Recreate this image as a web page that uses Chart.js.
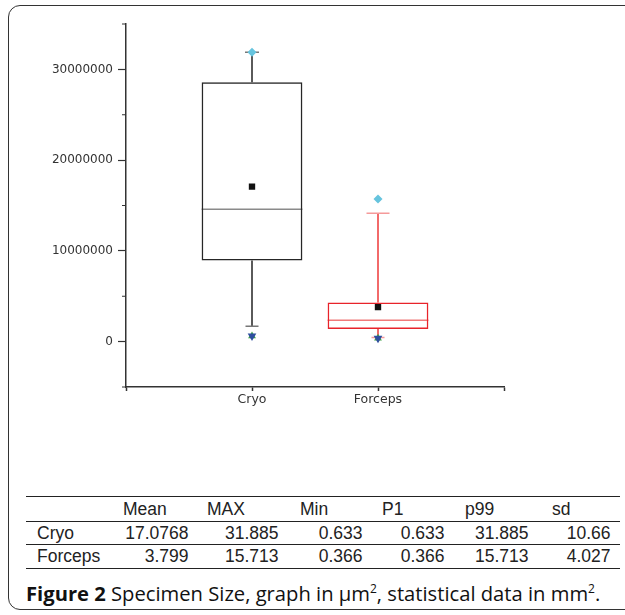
<!DOCTYPE html>
<html>
<head>
<meta charset="utf-8">
<script src="https://cdn.jsdelivr.net/npm/chart.js@4"></script>
<style>
  body { margin: 0; width: 625px; height: 615px; background: #fff; position: relative; overflow: hidden; }
  #frame { position: absolute; left: 8px; top: 5px; width: 640px; height: 605px; border: 1.5px solid #333; border-radius: 12px; box-sizing: border-box; }
  #chart { position: absolute; left: 0; top: 0; }
  #tbl { position: absolute; left: 26px; top: 496px; width: 594px; border-top: 1.5px solid #222;
         font-family: "Liberation Sans", Arial, sans-serif; font-size: 17.5px; color: #222; }
  .row { position: relative; border-bottom: 1.5px solid #222; }
  .row span { position: absolute; top: 0; white-space: nowrap; }
  #caption { position: absolute; left: 26px; top: 581px; line-height: 24px; font-family: "Open Sans", sans-serif; font-size: 20.2px; color: #111; white-space: nowrap; }
  #caption sup { font-size: 12px; vertical-align: 8px; line-height: 0; }
</style>
</head>
<body>
<div id="frame"></div>
<canvas id="chart" width="625" height="420"></canvas>
<div id="tbl"></div>
<div id="caption"><b>Figure 2</b> Specimen Size, graph in µm<sup>2</sup>, statistical data in mm<sup>2</sup>.</div>
<script>
// x axis: empty slots at both ends so the two boxes sit at 1/3 and 2/3
const categories = ["", "Cryo", "Forceps", ""];
const groups = ["Cryo", "Forceps"];

// box plot values in µm²
const q1 = [8930000, 1400000];
const q3 = [28570000, 4300000];
const medians = [14590000, 2350000];
const means = [17076800, 3799000];
const whiskerLow = [1690000, 450000];
const whiskerHigh = [31885000, 14150000];
const maxima = [31885000, 15713000];
const minima = [633000, 366000];
const p1 = [633000, 366000];
const p99 = [31885000, 15713000];

const yMajorTicks = [0, 10000000, 20000000, 30000000];
const yMinorTicks = [-5000000, 5000000, 15000000, 25000000, 35000000];

// table (mm²)
const tableHeaders = ["Mean", "MAX", "Min", "P1", "p99", "sd"];
const cryoStats = ["17.0768", "31.885", "0.633", "0.633", "31.885", "10.66"];
const forcepsStats = ["3.799", "15.713", "0.366", "0.366", "15.713", "4.027"];

const boxColors = ["#262626", "#e8232a"];
const whiskerColors = ["#5a5a5a", "#f26a6a"];
const medianColors = ["#8a8a8a", "#f07a7a"];
const capColors = ["#777", "#f59a9a"];
const capWidths = [[13, 14], [13, 23]]; // [low, high]

function slot(arr) {
  // put group values into the category slots
  return [null, arr[0], arr[1], null];
}

const boxExtras = {
  id: "boxExtras",
  beforeDatasetsDraw(chart) {
    const { ctx, scales } = chart;
    const boxes = chart.getDatasetMeta(0).data;
    ctx.save();
    groups.forEach((g, i) => {
      const x = scales.x.getPixelForValue(i + 1);
      const half = boxes[i + 1].width / 2;
      const yq1 = scales.y.getPixelForValue(q1[i]);
      const yq3 = scales.y.getPixelForValue(q3[i]);
      const yLo = scales.y.getPixelForValue(whiskerLow[i]);
      const yHi = scales.y.getPixelForValue(whiskerHigh[i]);
      ctx.strokeStyle = whiskerColors[i];
      ctx.lineWidth = 2;
      ctx.beginPath();
      ctx.moveTo(x, yq3); ctx.lineTo(x, yHi);
      ctx.moveTo(x, yq1); ctx.lineTo(x, yLo);
      ctx.stroke();
      ctx.lineWidth = 1.5;
      ctx.strokeStyle = capColors[i];
      ctx.beginPath();
      ctx.moveTo(x - capWidths[i][0] / 2, yLo); ctx.lineTo(x + capWidths[i][0] / 2, yLo);
      ctx.moveTo(x - capWidths[i][1] / 2, yHi); ctx.lineTo(x + capWidths[i][1] / 2, yHi);
      ctx.stroke();
      const ym = scales.y.getPixelForValue(medians[i]);
      ctx.strokeStyle = medianColors[i];
      ctx.lineWidth = 1.5;
      ctx.beginPath();
      ctx.moveTo(x - half, ym); ctx.lineTo(x + half, ym);
      ctx.stroke();
    });
    // minor ticks on the y axis
    const left = chart.chartArea.left;
    ctx.strokeStyle = "#333";
    ctx.lineWidth = 1.2;
    ctx.beginPath();
    yMinorTicks.forEach(v => {
      const y = scales.y.getPixelForValue(v);
      ctx.moveTo(left - 4, y); ctx.lineTo(left, y);
    });
    ctx.stroke();
    ctx.restore();
  }
};

new Chart(document.getElementById("chart"), {
  type: "bar",
  data: {
    labels: categories,
    datasets: [
      {
        data: [null, [q1[0], q3[0]], [q1[1], q3[1]], null],
        backgroundColor: "rgba(0,0,0,0)",
        borderColor: [null, boxColors[0], boxColors[1], null],
        borderWidth: 1.5,
        borderSkipped: false,
        barPercentage: 1,
        categoryPercentage: 0.8,
        order: 5
      },
      {
        type: "line", data: slot(means), showLine: false,
        pointStyle: "rect", pointRadius: 4.5, pointBackgroundColor: "#111", pointBorderWidth: 0, order: 0
      },
      {
        type: "line", data: slot(p99), showLine: false,
        pointStyle: "circle", pointRadius: 2.5, pointBackgroundColor: "#e84040", pointBorderWidth: 0, order: 3
      },
      {
        type: "line", data: slot(maxima), showLine: false,
        pointStyle: "rectRot", pointRadius: 4.5, pointBackgroundColor: "#66c4de", pointBorderWidth: 0, order: 1
      },
      {
        type: "line", data: slot(p1), showLine: false,
        pointStyle: "triangle", pointRadius: 4.5, pointBackgroundColor: "#3ca044", pointBorderWidth: 0, order: 3
      },
      {
        type: "line", data: slot(minima), showLine: false,
        pointStyle: "triangle", pointRotation: 180, pointRadius: 5, pointBackgroundColor: "#2f4f9f", pointBorderWidth: 0, order: 1
      }
    ]
  },
  options: {
    responsive: false,
    animation: false,
    events: [],
    layout: { padding: { top: 24, right: 121, bottom: 0, left: 0 } },
    plugins: { legend: { display: false }, tooltip: { enabled: false } },
    scales: {
      x: {
        type: "category",
        offset: false,
        grid: { display: true, drawOnChartArea: false, offset: false, tickLength: 4, color: "#333", tickWidth: 1.5 },
        border: { display: true, color: "#333", width: 1.5 },
        ticks: { autoSkip: false, maxRotation: 0, padding: 1, color: "#333", font: { family: "DejaVu Sans", size: 12.5 } },
        afterFit: (s) => { s.height = 33; }
      },
      y: {
        min: -5000000,
        max: 35000000,
        ticks: {
          stepSize: 10000000,
          padding: 5,
          color: "#333",
          font: { family: "DejaVu Sans", size: 12 },
          callback: (v) => yMajorTicks.includes(v) ? String(v) : ""
        },
        afterBuildTicks: (s) => { s.ticks = yMajorTicks.map(v => ({ value: v })); },
        grid: { display: true, drawOnChartArea: false, tickLength: 8, color: "#333", tickWidth: 1.2 },
        border: { display: true, color: "#333", width: 1.5 },
        afterFit: (s) => { s.width = 126; }
      }
    }
  },
  plugins: [boxExtras]
});

// statistics table
const headerLefts = [97, 181, 274, 356, 439, 526];
const valueRights = [431.5, 341.5, 257.5, 175.5, 91.5, 9.5]; // distance from right edge of table
function addRow(label, cells, height, isHeader) {
  const row = document.createElement("div");
  row.className = "row";
  row.style.height = height + "px";
  row.style.lineHeight = height + "px";
  if (label) {
    const s = document.createElement("span");
    s.textContent = label; s.style.left = "11px";
    row.appendChild(s);
  }
  cells.forEach((c, i) => {
    const s = document.createElement("span");
    s.textContent = c;
    if (isHeader) s.style.left = headerLefts[i] + "px";
    else s.style.right = valueRights[i] + "px";
    row.appendChild(s);
  });
  document.getElementById("tbl").appendChild(row);
}
addRow("", tableHeaders, 24, true);
addRow(groups[0], cryoStats, 22, false);
addRow(groups[1], forcepsStats, 22.5, false);
</script>
</body>
</html>
